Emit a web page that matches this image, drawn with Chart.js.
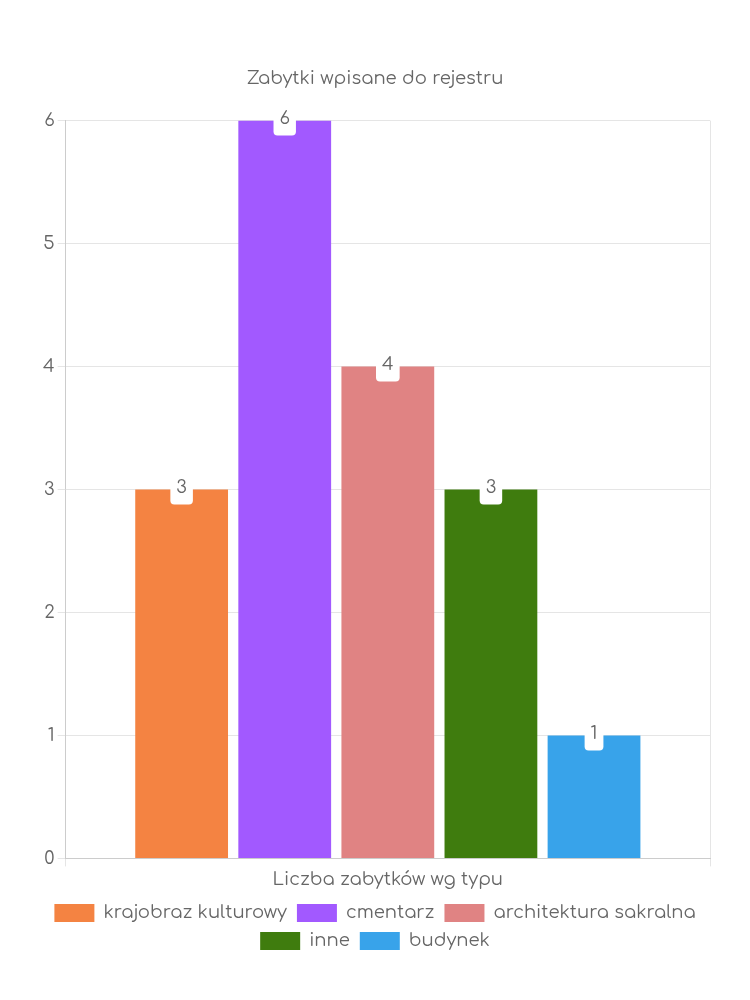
<!DOCTYPE html>
<html>
<head>
<meta charset="utf-8">
<script src="https://cdn.jsdelivr.net/npm/chart.js@4/dist/chart.umd.min.js"></script>
<style>
  html, body { margin: 0; padding: 0; background: #fff; }
  #wrap { width: 750px; height: 1000px; }
</style>
</head>
<body>
<div id="wrap"><canvas id="chart" width="750" height="1000"></canvas></div>
<script>
const categories = ['Liczba zabytków wg typu'];
const seriesNames = ['krajobraz kulturowy', 'cmentarz', 'architektura sakralna', 'inne', 'budynek'];
const seriesValues = [3, 6, 4, 3, 1];
const seriesColors = ['#f48342', '#a259ff', '#e08383', '#3f7c0e', '#38a3ea'];
const yTicks = [0, 1, 2, 3, 4, 5, 6];

const FONT = "'Comfortaa', 'DejaVu Sans', sans-serif";
const TEXT = '#666';

// white rounded label box sitting on top of each bar
const barLabels = {
    id: 'barLabels',
    afterDatasetsDraw(chart) {
        const ctx = chart.ctx;
        ctx.save();
        ctx.font = '18px ' + FONT;
        ctx.textAlign = 'center';
        ctx.textBaseline = 'middle';
        chart.data.datasets.forEach((ds, i) => {
            const meta = chart.getDatasetMeta(i);
            meta.data.forEach((bar, j) => {
                const text = String(ds.data[j]);
                const w = ctx.measureText(text).width + 12;
                const h = 30;
                ctx.fillStyle = '#fff';
                ctx.beginPath();
                ctx.roundRect(bar.x - w / 2, bar.y - h / 2, w, h, 4);
                ctx.fill();
                ctx.fillStyle = TEXT;
                ctx.fillText(text, bar.x, bar.y - 2);
            });
        });
        ctx.restore();
    }
};

new Chart(document.getElementById('chart'), {
    type: 'bar',
    data: {
        labels: categories,
        datasets: seriesNames.map((name, i) => ({
            label: name,
            data: [seriesValues[i]],
            backgroundColor: seriesColors[i],
            borderWidth: 0
        }))
    },
    options: {
        responsive: false,
        animation: false,
        layout: { padding: { top: 68, left: 40, right: 40, bottom: 40 } },
        plugins: {
            title: {
                display: true,
                text: 'Zabytki wpisane do rejestru',
                color: TEXT,
                font: { family: FONT, size: 18, weight: 'normal' },
                padding: { top: 0, bottom: 31 }
            },
            legend: {
                position: 'bottom',
                labels: {
                    color: TEXT,
                    boxWidth: 40,
                    boxHeight: 18,
                    padding: 10,
                    font: { family: FONT, size: 18 }
                }
            },
            tooltip: { enabled: false }
        },
        scales: {
            x: {
                grid: { color: '#e5e5e5' },
                border: { color: '#ccc' },
                ticks: { color: TEXT, font: { family: FONT, size: 18 } }
            },
            y: {
                min: yTicks[0],
                max: yTicks[yTicks.length - 1],
                grid: { color: '#e5e5e5' },
                border: { color: '#ccc' },
                ticks: { stepSize: 1, color: TEXT, font: { family: FONT, size: 18 } }
            }
        }
    },
    plugins: [barLabels]
});
</script>
</body>
</html>
